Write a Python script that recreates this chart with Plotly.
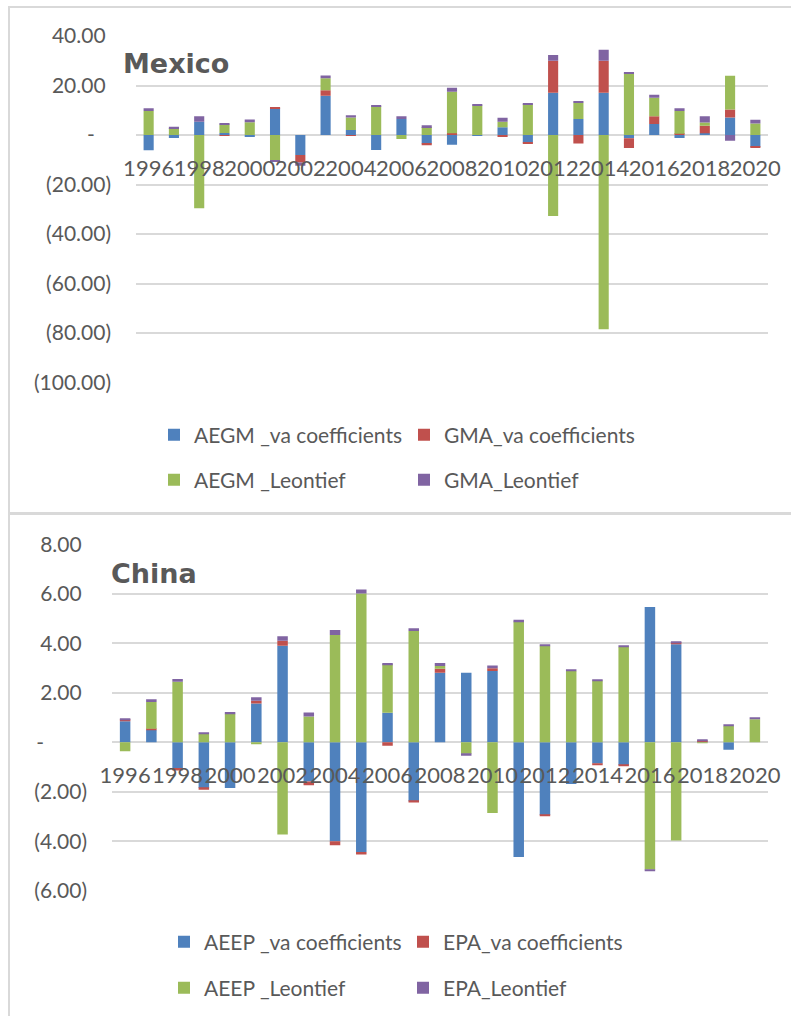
import plotly.graph_objects as go

# ---------------- data ----------------
years = list(range(1996, 2021))
year_ticks = list(range(1996, 2021, 2))
year_tick_labels = [str(y) for y in year_ticks]

# Mexico
mx_names = ["AEGM _va coefficients", "GMA_va coefficients", "AEGM _Leontief", "GMA_Leontief"]
mx_aegm_va = [-6.2, -1.2, 5.4, 0.8, -0.8, 10.8, -8.1, 15.9, 2.0, -6.1, 6.5, -3.4, -3.9,
              -0.4, 3.1, -3.0, 17.1, 6.5, 17.1, -1.3, 4.4, -1.2, 0.7, 7.1, -4.7]
mx_gma_va = [0.0, 0.0, 0.0, -0.4, 0.0, 0.5, -3.0, 2.2, -0.4, 0.0, 0.0, -0.7, 0.7,
             0.0, -0.8, -0.5, 12.9, -3.4, 12.9, -4.0, 3.2, 0.5, 3.0, 3.2, -0.4]
mx_aegm_leo = [9.7, 2.8, -29.6, 3.4, 5.2, -10.4, 0.0, 4.8, 5.1, 11.6, -1.6, 3.2, 16.8,
               11.9, 2.3, 12.4, -32.7, 6.5, -78.5, 24.8, 7.5, 9.2, 1.3, 13.6, 4.6]
mx_gma_leo = [1.1, 0.5, 2.2, 0.5, 1.1, -0.5, -1.3, 1.1, 0.9, 0.5, 1.1, 0.7, 1.6,
              0.5, 1.6, 0.5, 2.3, 0.7, 4.4, 0.5, 1.2, 1.1, 2.6, -2.3, 1.6]
mx_yticks = [40, 20, 0, -20, -40, -60, -80, -100]
mx_ytick_labels = ["40.00\u00a0", "20.00\u00a0", "-\u00a0\u00a0\u00a0", "(20.00)",
                   "(40.00)", "(60.00)", "(80.00)", "(100.00)"]

# China
cn_names = ["AEEP _va coefficients", "EPA_va coefficients", "AEEP _Leontief", "EPA_Leontief"]
cn_aeep_va = [0.85, 0.5, -1.04, -1.85, -1.85, 1.57, 3.9, -1.58, -4.0, -4.43, 1.19, -2.38, 2.81,
              2.81, 2.88, -4.63, -2.94, -1.68, -0.86, -0.92, 5.47, 3.96, 0.04, -0.3, 0.0]
cn_epa_va = [0.04, 0.05, -0.1, -0.07, 0.0, 0.11, 0.2, -0.16, -0.16, -0.1, -0.14, -0.05, 0.16,
             0.0, 0.11, 0.0, -0.05, 0.0, -0.07, -0.05, 0.0, 0.05, 0.03, 0.0, 0.0]
cn_aeep_leo = [-0.36, 1.08, 2.45, 0.34, 1.15, -0.06, -3.73, 1.04, 4.34, 6.01, 1.96, 4.5, 0.11,
               -0.46, -2.86, 4.88, 3.9, 2.88, 2.5, 3.85, -5.14, -3.97, -0.04, 0.66, 0.93]
cn_epa_leo = [0.04, 0.11, 0.11, 0.07, 0.07, 0.14, 0.18, 0.16, 0.2, 0.16, 0.05, 0.11, 0.12,
              -0.08, 0.11, 0.07, 0.05, 0.07, 0.05, 0.05, -0.04, 0.07, 0.05, 0.07, 0.07]
cn_yticks = [8, 6, 4, 2, 0, -2, -4, -6]
cn_ytick_labels = ["8.00\u00a0", "6.00\u00a0", "4.00\u00a0", "2.00\u00a0",
                   "-" + "\u00a0" * 8, "(2.00)", "(4.00)", "(6.00)"]

# ---------------- style ----------------
W, H = 791, 1016
colors = ["#4F81BD", "#C0504D", "#9BBB59", "#8064A2"]
TXT = "#595959"
GRID = "#D9D9D9"
FONT = "Lato"


def fx(px):
    return px / W


def fy(py):
    return 1 - py / H


mx_range = [-100, 40]
cn_range = [-6, 8]
mx_dom_y = [fy(382.5), fy(36)]
cn_dom_y = [fy(890.8), fy(544.3)]
mx_dom_x = [fx(136), fx(768)]
cn_dom_x = [fx(112), fx(768)]


def zero_pos(dom, rng):
    return dom[0] + (0 - rng[0]) / (rng[1] - rng[0]) * (dom[1] - dom[0])


fig = go.Figure()

mx_series = [mx_aegm_va, mx_gma_va, mx_aegm_leo, mx_gma_leo]
cn_series = [cn_aeep_va, cn_epa_va, cn_aeep_leo, cn_epa_leo]
mx_leg = ["legend", "legend", "legend2", "legend2"]
cn_leg = ["legend3", "legend3", "legend4", "legend4"]

for i in range(4):
    fig.add_trace(go.Bar(x=years, y=mx_series[i], name=mx_names[i],
                         marker=dict(color=colors[i], line=dict(width=0)),
                         xaxis="x", yaxis="y", legend=mx_leg[i]))
for i in range(4):
    fig.add_trace(go.Bar(x=years, y=cn_series[i], name=cn_names[i],
                         marker=dict(color=colors[i], line=dict(width=0)),
                         xaxis="x2", yaxis="y2", legend=cn_leg[i]))

xcommon = dict(range=[1995.5, 2020.5], tickmode="array", tickvals=year_ticks,
               ticktext=year_tick_labels, tickangle=0, ticks="", showgrid=False,
               zeroline=False, showline=False, anchor="free", automargin=False,
               tickfont=dict(family=FONT, size=22, color=TXT), ticklabelstandoff=18)
ycommon = dict(tickmode="array", ticks="", showgrid=True, gridcolor=GRID, gridwidth=2,
               zeroline=False, showline=False, automargin=False,
               tickfont=dict(family=FONT, size=21, color=TXT))

fig.update_layout(
    width=W, height=H, template="none",
    margin=dict(l=0, r=0, t=0, b=0, pad=0),
    paper_bgcolor="white", plot_bgcolor="white",
    barmode="relative", bargap=0.6,
    showlegend=True,
    xaxis=dict(domain=mx_dom_x, position=zero_pos(mx_dom_y, mx_range), **xcommon),
    yaxis=dict(domain=mx_dom_y, range=mx_range, tickvals=mx_yticks,
               ticktext=mx_ytick_labels, anchor="x", ticklabelstandoff=24, **ycommon),
    xaxis2=dict(domain=cn_dom_x, position=zero_pos(cn_dom_y, cn_range), **xcommon),
    yaxis2=dict(domain=cn_dom_y, range=cn_range, tickvals=cn_yticks,
                ticktext=cn_ytick_labels, anchor="x2", ticklabelstandoff=24, **ycommon),
)

leg_common = dict(orientation="h", xanchor="left", yanchor="middle",
                  font=dict(family=FONT, size=21, color=TXT), bgcolor="rgba(0,0,0,0)",
                  borderwidth=0, itemwidth=30, entrywidthmode="pixels",
                  traceorder="normal", itemclick=False, itemdoubleclick=False)
fig.update_layout(
    legend=dict(x=fx(154), y=fy(435), entrywidth=205, **leg_common),
    legend2=dict(x=fx(154), y=fy(480), entrywidth=205, **leg_common),
    legend3=dict(x=fx(164), y=fy(942), entrywidth=194, **leg_common),
    legend4=dict(x=fx(164), y=fy(988), entrywidth=194, **leg_common),
)

# titles
fig.add_annotation(text="<b>Mexico</b>", x=fx(121), y=fy(63), xref="paper", yref="paper",
                   xanchor="left", yanchor="middle", showarrow=False,
                   font=dict(family="DejaVu Sans", size=27, color=TXT))
fig.add_annotation(text="<b>China</b>", x=fx(109), y=fy(573), xref="paper", yref="paper",
                   xanchor="left", yanchor="middle", showarrow=False,
                   font=dict(family="DejaVu Sans", size=27, color=TXT))

# chart-area borders
for (y0, y1) in [(7, 513), (514, 1030)]:
    fig.add_shape(type="rect", xref="paper", yref="paper",
                  x0=fx(9), x1=fx(820), y0=fy(y1), y1=fy(y0),
                  line=dict(color=GRID, width=2), fillcolor="rgba(0,0,0,0)", layer="below")

fig.write_html("out.html")
